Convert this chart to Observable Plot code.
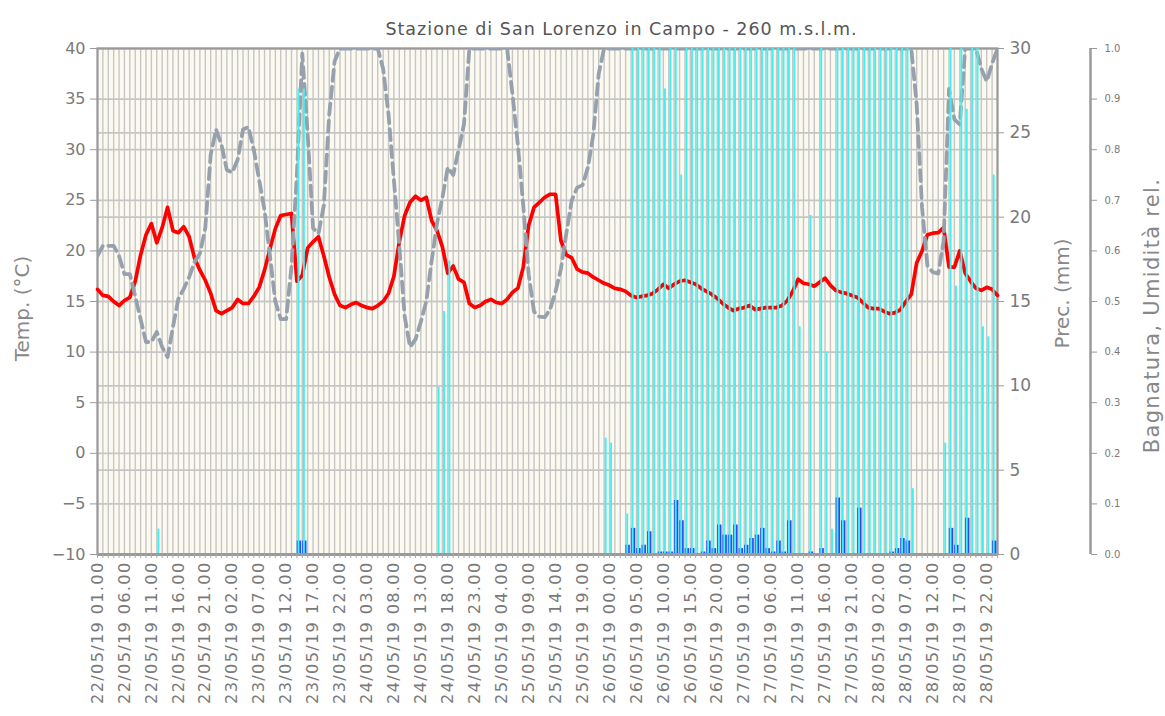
<!DOCTYPE html>
<html><head><meta charset="utf-8">
<script src="https://cdn.jsdelivr.net/npm/d3@7"></script>
<script src="https://cdn.jsdelivr.net/npm/@observablehq/plot@0.6"></script>
<style>body{margin:0;background:#fff} svg{display:block}</style>
</head><body><div id="chart"></div>
<script>
const title = "Stazione di San Lorenzo in Campo - 260 m.s.l.m.";
const tempLabel = "Temp. (°C)";
const precLabel = "Prec. (mm)";
const wetLabel = "Bagnatura, Umidità rel.";

const timeLabels = ["22/05/19 01.00","22/05/19 06.00","22/05/19 11.00","22/05/19 16.00","22/05/19 21.00",
  "23/05/19 02.00","23/05/19 07.00","23/05/19 12.00","23/05/19 17.00","23/05/19 22.00",
  "24/05/19 03.00","24/05/19 08.00","24/05/19 13.00","24/05/19 18.00","24/05/19 23.00",
  "25/05/19 04.00","25/05/19 09.00","25/05/19 14.00","25/05/19 19.00",
  "26/05/19 00.00","26/05/19 05.00","26/05/19 10.00","26/05/19 15.00","26/05/19 20.00",
  "27/05/19 01.00","27/05/19 06.00","27/05/19 11.00","27/05/19 16.00","27/05/19 21.00",
  "28/05/19 02.00","28/05/19 07.00","28/05/19 12.00","28/05/19 17.00","28/05/19 22.00"];
const labelEvery = 5;

const tempTicks = [-10,-5,0,5,10,15,20,25,30,35,40];
const precTicks = [0,5,10,15,20,25,30];
const wetTicks = [0,0.1,0.2,0.3,0.4,0.5,0.6,0.7,0.8,0.9,1.0];

// hourly temperature (°C)
const temperature = [
 16.2,15.6,15.5,15.0,14.6,15.1,15.4,17.0,19.6,21.6,
 22.7,20.8,22.3,24.3,22.0,21.8,22.4,21.4,19.3,18.1,
 17.1,15.8,14.1,13.8,14.1,14.4,15.2,14.8,14.8,15.5,
 16.4,18.1,20.2,22.2,23.5,23.6,23.7,17.0,17.6,20.3,
 20.9,21.4,19.5,17.4,15.7,14.6,14.4,14.7,14.9,14.6,
 14.4,14.3,14.6,15.0,15.8,17.5,20.9,23.5,24.8,25.4,
 25.0,25.3,23.0,22.0,20.4,17.8,18.5,17.2,16.9,14.8,
 14.4,14.6,15.0,15.2,14.9,14.8,15.2,15.9,16.3,18.4,
 22.5,24.3,24.8,25.3,25.6,25.6,21.0,19.6,19.3,18.2,
 17.9,17.8,17.4,17.1,16.8,16.6,16.3,16.2,16.0,15.6,
 15.4,15.5,15.6,15.8,16.2,16.7,16.3,16.7,17.0,17.1,
 16.9,16.7,16.3,16.0,15.7,15.3,14.8,14.4,14.1,14.3,
 14.4,14.6,14.2,14.3,14.4,14.4,14.4,14.6,15.1,16.0,
 17.2,16.8,16.7,16.5,16.9,17.3,16.6,16.1,15.9,15.8,
 15.6,15.4,14.9,14.4,14.3,14.3,14.0,13.8,13.9,14.2,
 15.0,15.7,18.8,20.0,21.6,21.75,21.8,22.3,18.4,18.4,
 20.0,17.8,17.0,16.3,16.1,16.4,16.2,15.6];

// hourly relative humidity (0..1)
const humidity = [
 .59,.61,.61,.61,.59,.554,.554,.51,.465,.42,
 .42,.44,.41,.39,.45,.505,.525,.548,.578,.595,
 .645,.79,.84,.81,.76,.755,.78,.84,.845,.80,
 .74,.68,.59,.50,.465,.465,.57,.752,.99,.83,
 .645,.634,.69,.87,.975,1,1,1,1,1,
 1,1,1,.96,.87,.74,.61,.47,.41,.425,
 .46,.50,.58,.655,.705,.765,.75,.80,.85,1,
 1,1,1,1,1,1,1,.91,.81,.69,
 .554,.48,.47,.469,.485,.52,.565,.635,.70,.725,
 .73,.765,.83,.95,1,1,1,1,1,1,
 1,1,1,1,1,1,1,1,1,1,
 1,1,1,1,1,1,1,1,1,1,
 1,1,1,1,1,1,1,1,1,1,
 1,1,1,1,1,1,1,1,1,1,
 1,1,1,1,1,1,1,1,1,1,
 1,1,.89,.686,.57,.558,.555,.62,.92,.86,
 .85,1,1,1,.96,.935,.97,1];

// hourly leaf wetness (0..1)
const wetness = [
 0,0,0,0,0,0,0,0,0,0,
 0,.05,0,0,0,0,0,0,0,0,
 0,0,0,0,0,0,0,0,0,0,
 0,0,0,0,0,0,0,.92,.92,0,
 0,0,0,0,0,0,0,0,0,0,
 0,0,0,0,0,0,0,0,0,0,
 0,0,0,.33,.48,.58,0,0,0,0,
 0,0,0,0,0,0,0,0,0,0,
 0,0,0,0,0,0,0,0,0,0,
 0,0,0,0,.23,.22,0,0,.08,1,
 1,1,1,1,1,.92,1,1,.75,1,
 1,1,1,1,1,1,1,1,1,1,
 1,1,1,1,1,1,1,1,1,1,
 .45,0,.67,0,1,.40,.05,1,1,1,
 1,1,1,1,1,1,1,1,1,1,
 1,.13,0,0,0,0,0,.22,1,.53,
 1,.88,1,1,.45,.43,.75,0];

// hourly precipitation (mm)
const precipitation = [
 0,0,0,0,0,0,0,0,0,0,
 0,0,0,0,0,0,0,0,0,0,
 0,0,0,0,0,0,0,0,0,0,
 0,0,0,0,0,0,0,.8,.8,0,
 0,0,0,0,0,0,0,0,0,0,
 0,0,0,0,0,0,0,0,0,0,
 0,0,0,0,0,0,0,0,0,0,
 0,0,0,0,0,0,0,0,0,0,
 0,0,0,0,0,0,0,0,0,0,
 0,0,0,0,0,0,0,0,.55,1.55,
 .35,.55,1.35,0,.15,.15,.15,3.2,2.0,.35,
 .35,0,.15,.8,.35,1.75,1.15,1.15,1.75,.35,
 .55,.95,1.15,1.55,.35,.15,.8,.15,2.0,0,
 0,0,.15,0,.35,0,0,3.35,2.0,0,
 0,2.75,0,0,0,0,0,.15,.35,.95,
 .8,0,0,0,0,0,0,0,1.55,.55,
 0,2.15,0,0,0,0,.8,0];

const n = temperature.length;
const hours = d3.range(n);
const table = hours.map(i => ({i, t: temperature[i], h: humidity[i], w: wetness[i], p: precipitation[i]}));
const hToT = h => h * 50 - 10;          // 0..1  -> -10..40
const pToT = p => p * 50 / 30 - 10;     // 0..30 -> -10..40
const labelHours = timeLabels.map((_, k) => k * labelEvery);

const grid = "#c6c6c6";
const axisGray = "#9a9a9a";
const textGray = "#7a7a7a";

const plot = Plot.plot({
  width: 1165, height: 716,
  marginLeft: 97, marginRight: 168, marginTop: 48, marginBottom: 162,
  x: {domain: [0, n - 1], axis: null},
  y: {domain: [-10, 40], axis: null},
  style: {fontFamily: "DejaVu Sans, Verdana, sans-serif", color: textGray, background: "#fff", overflow: "visible"},
  marks: [
    Plot.frame({fill: "#fcfaf0", stroke: null}),
    Plot.ruleX(hours, {stroke: grid, strokeWidth: 1.4}),
    Plot.ruleY(tempTicks, {stroke: grid, strokeWidth: 1.7}),
    Plot.ruleY(precTicks.map(pToT), {stroke: grid, strokeWidth: 1.7}),
    Plot.frame({stroke: axisGray, strokeWidth: 2.2}),
    Plot.ruleX(table.filter(d => d.p > 0), {x: "i", y1: -10, y2: d => pToT(d.p), dx: 2, stroke: "#1f4cff", strokeWidth: 4.4}),
    Plot.line(table, {x: "i", y: "t", stroke: "#ff0000", strokeWidth: 3.7}),
    Plot.line(table, {x: "i", y: d => hToT(d.h), stroke: "#96a1ad", strokeWidth: 3.8, strokeDasharray: "11,6", clip: "frame"}),
    Plot.ruleX(table.filter(d => d.w > 0), {x: "i", y1: -10, y2: d => hToT(d.w), dx: 1.6, stroke: "#3ff2f2", strokeWidth: 1.9}),
    // bottom baseline + hourly ticks
    Plot.ruleY([-10], {stroke: axisGray, strokeWidth: 3}),
    Plot.axisX(hours, {anchor: "bottom", tickSize: 4, tickFormat: () => "", stroke: "#a8a8a8", label: null}),
    Plot.axisX(labelHours, {anchor: "bottom", tickSize: 0, tickPadding: 7, tickRotate: -90, fontSize: 16.2, fill: textGray,
      tickFormat: d => timeLabels[d / labelEvery], label: null}),
    // left temperature axis
    Plot.axisY(tempTicks, {anchor: "left", tickSize: 7, tickPadding: 5, fontSize: 16, stroke: axisGray, fill: textGray, label: null}),
    // right precipitation axis
    Plot.axisY(precTicks.map(pToT), {anchor: "right", tickSize: 6, tickPadding: 6, fontSize: 17, stroke: axisGray, fill: textGray,
      tickFormat: d => String(Math.round((d + 10) * 30 / 50)), label: null}),
    // far right wetness / humidity axis
    Plot.ruleX([n - 1], {y1: -10, y2: 40, dx: 93, stroke: axisGray, strokeWidth: 2.5}),
    Plot.axisY(wetTicks.map(hToT), {anchor: "right", dx: 93, tickSize: 6, tickPadding: 8, fontSize: 10, stroke: axisGray, fill: textGray,
      tickFormat: d => ((d + 10) / 50).toFixed(1), label: null}),
    // titles
    Plot.text([title], {frameAnchor: "top", dx: 74, dy: -26, fontSize: 17.5, fill: "#555", textAnchor: "middle"}),
    Plot.text([tempLabel], {frameAnchor: "left", dx: -75, dy: 7, rotate: -90, fontSize: 20, fill: "#888", textAnchor: "middle"}),
    Plot.text([precLabel], {frameAnchor: "right", dx: 65, dy: -8, rotate: -90, fontSize: 20, fill: "#888", textAnchor: "middle"}),
    Plot.text([wetLabel], {frameAnchor: "right", dx: 155, dy: 14, rotate: -90, fontSize: 21, fill: "#888", textAnchor: "middle"})
  ]
});
document.getElementById("chart").appendChild(plot);
const texts = d3.select(plot).selectAll("text");
texts.filter(function() { return /^\d\d\/05\/19 /.test(this.textContent); }).style("letter-spacing", "1.3px");
texts.filter(function() { return this.textContent === title; }).style("letter-spacing", "1px");
texts.filter(function() { return this.textContent === wetLabel; }).style("letter-spacing", "1.3px");
</script>
</body></html>
